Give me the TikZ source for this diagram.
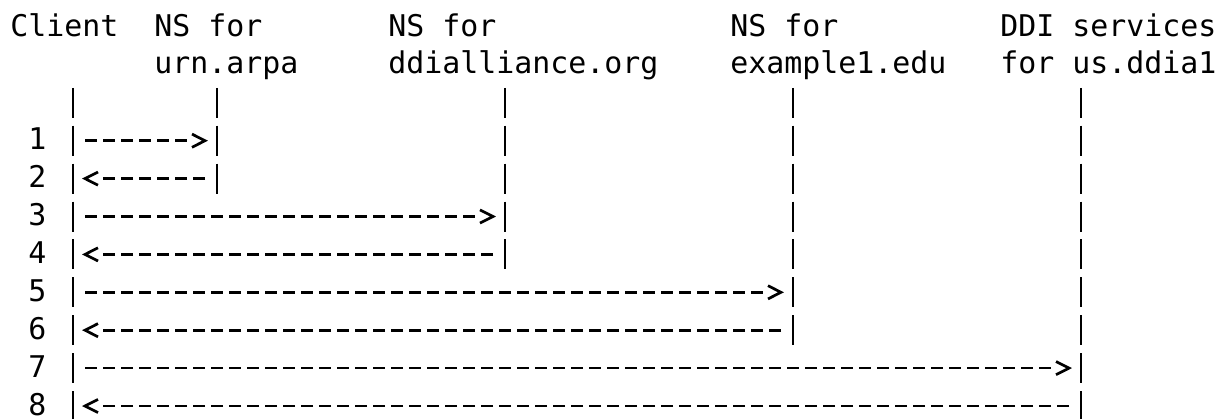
\documentclass[tikz,border=0pt]{standalone}
\usepackage{fontspec}
\newfontfamily\monofont{DejaVu Sans Mono}
\usetikzlibrary{decorations.markings}

\begin{document}
\begin{tikzpicture}[x=9pt,y=-18.95pt,
        font=\monofont\fontsize{14.95}{18.95}\selectfont,
        lbl/.style={inner sep=0pt,anchor=base west},
        life/.style={line width=1.35pt,dash pattern=on 15pt off 3.95pt},
        msg/.style={line width=1.35pt,dash pattern=on 6pt off 3pt,
            shorten <=6pt,shorten >=15pt,
            postaction={decorate,decoration={markings,
                mark=at position -6pt with {\draw[solid,shorten <=0pt,shorten >=0pt]
                    (-6.5pt,3.3pt) -- (0pt,0pt) -- (-6.5pt,-3.3pt);}}}}]
    \useasboundingbox (0pt,0pt) rectangle (610pt,-209pt);

    \begin{scope}[shift={(5pt,-18pt)}]
        % X = column, Y = line (baseline)
        \node[lbl] (cl)    at (0,0)  {Client};
        \node[lbl] (urn)   at (8,0)  {NS for};
        \node[lbl] (urn-b) at (8,1)  {urn.arpa};
        \node[lbl] (dda)   at (21,0) {NS for};
        \node[lbl] (dda-b) at (21,1) {ddialliance.org};
        \node[lbl] (exa)   at (40,0) {NS for};
        \node[lbl] (exa-b) at (40,1) {example1.edu};
        \node[lbl] (ddi)   at (55,0) {DDI services};
        \node[lbl] (ddi-b) at (55,1) {for us.ddia1};

        \foreach \r in {1,...,8}
            \node[lbl] (num\r) at (1,\r+2) {\r};

        % lifelines, stop where the later messages run over them
        \foreach \n/\c/\e in {cl/3/10,urn/11/4,dda/27/6,exa/43/8,ddi/59/10}
            {
            \coordinate[yshift=12pt] (\n-top) at (\c+0.5,2);
            \coordinate[yshift=-3pt] (\n-bot) at (\c+0.5,\e);
            \draw[life] (\n-top) -- (\n-bot);
            \foreach \r in {1,...,8}
                \coordinate[yshift=4.5pt] (\n\r) at (\c+0.5,\r+2);
            }

        % messages
        \foreach \a/\b/\r in {cl/urn/1,urn/cl/2,cl/dda/3,dda/cl/4,
                              cl/exa/5,exa/cl/6,cl/ddi/7,ddi/cl/8}
            {\draw[msg] (\a\r) -- (\b\r);}
    \end{scope}
\end{tikzpicture}
\end{document}
